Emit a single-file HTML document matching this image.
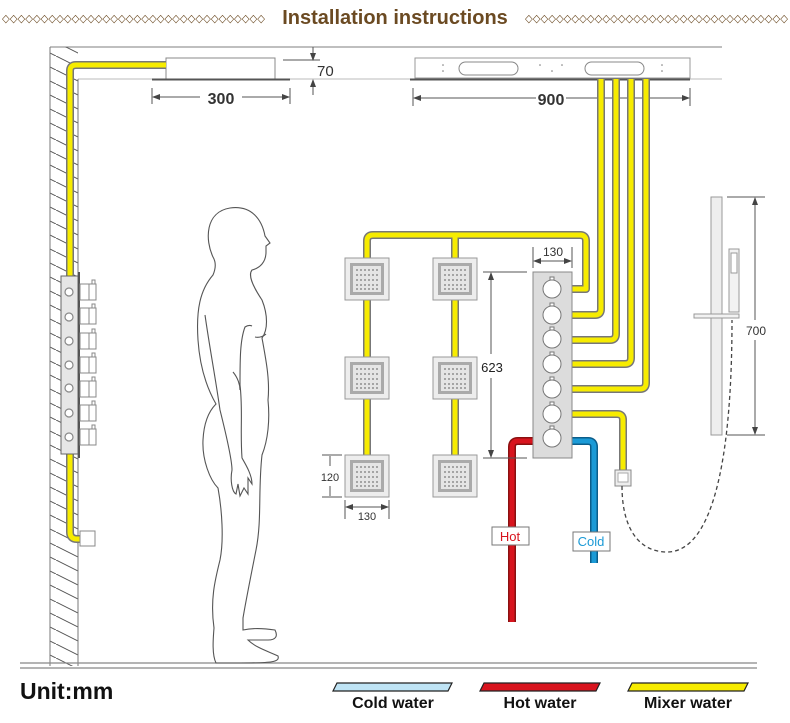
<!DOCTYPE html>
<html><head><meta charset="utf-8"><style>
html,body{margin:0;padding:0;background:#fff;}
svg{display:block;}
text{font-family:"Liberation Sans",sans-serif;}
</style></head><body>
<svg width="790" height="723" viewBox="0 0 790 723" xmlns="http://www.w3.org/2000/svg">
<defs>
<pattern id="hatch" width="28" height="14" patternUnits="userSpaceOnUse">
<path d="M0,0 L28,14" stroke="#555" stroke-width="1"/>
</pattern>
<g id="panel">
<rect x="0" y="0" width="44" height="42" fill="#ededed" stroke="#999"/>
<rect x="5" y="5" width="34" height="32" fill="#aaa"/>
<rect x="8" y="8" width="28" height="26" fill="#e5e5e5"/>
<g fill="#777">
<circle cx="12" cy="12" r="0.9"/><circle cx="16" cy="12" r="0.9"/><circle cx="20" cy="12" r="0.9"/><circle cx="24" cy="12" r="0.9"/><circle cx="28" cy="12" r="0.9"/><circle cx="32" cy="12" r="0.9"/>
<circle cx="12" cy="17" r="0.9"/><circle cx="16" cy="17" r="0.9"/><circle cx="20" cy="17" r="0.9"/><circle cx="24" cy="17" r="0.9"/><circle cx="28" cy="17" r="0.9"/><circle cx="32" cy="17" r="0.9"/>
<circle cx="12" cy="22" r="0.9"/><circle cx="16" cy="22" r="0.9"/><circle cx="20" cy="22" r="0.9"/><circle cx="24" cy="22" r="0.9"/><circle cx="28" cy="22" r="0.9"/><circle cx="32" cy="22" r="0.9"/>
<circle cx="12" cy="27" r="0.9"/><circle cx="16" cy="27" r="0.9"/><circle cx="20" cy="27" r="0.9"/><circle cx="24" cy="27" r="0.9"/><circle cx="28" cy="27" r="0.9"/><circle cx="32" cy="27" r="0.9"/>
<circle cx="12" cy="31" r="0.9"/><circle cx="16" cy="31" r="0.9"/><circle cx="20" cy="31" r="0.9"/><circle cx="24" cy="31" r="0.9"/><circle cx="28" cy="31" r="0.9"/><circle cx="32" cy="31" r="0.9"/>
</g>
</g>
<marker id="ar" markerWidth="8" markerHeight="8" refX="7" refY="4" orient="auto-start-reverse" markerUnits="userSpaceOnUse"><path d="M0,1 L8,4 L0,7 Z" fill="#444"/></marker>
</defs>

<!-- title -->
<text x="395" y="24" font-size="20" font-weight="bold" fill="#6b4a22" text-anchor="middle">Installation instructions</text>
<text x="2" y="22" font-size="11" fill="#6b4a22" textLength="263" lengthAdjust="spacingAndGlyphs">◇◇◇◇◇◇◇◇◇◇◇◇◇◇◇◇◇◇◇◇◇◇◇◇◇◇◇◇◇◇◇◇◇◇</text>
<text x="525" y="22" font-size="11" fill="#6b4a22" textLength="263" lengthAdjust="spacingAndGlyphs">◇◇◇◇◇◇◇◇◇◇◇◇◇◇◇◇◇◇◇◇◇◇◇◇◇◇◇◇◇◇◇◇◇◇</text>

<!-- ceiling -->
<line x1="50" y1="47" x2="722" y2="47" stroke="#999" stroke-width="1.2"/>
<line x1="78" y1="79" x2="152" y2="79" stroke="#bbb"/>
<line x1="290" y1="79" x2="412" y2="79" stroke="#bbb"/>
<line x1="690" y1="79" x2="722" y2="79" stroke="#bbb"/>
<!-- wall -->
<rect x="50" y="47" width="28" height="619" fill="url(#hatch)"/>
<line x1="50" y1="47" x2="50" y2="666" stroke="#777"/>
<line x1="78" y1="79" x2="78" y2="666" stroke="#777"/>
<!-- floor -->
<line x1="20" y1="663" x2="757" y2="663" stroke="#888" stroke-width="1.3"/>
<line x1="20" y1="668" x2="757" y2="668" stroke="#888" stroke-width="1.3"/>

<!-- top-left head -->
<rect x="166" y="58" width="109" height="21" fill="#fff" stroke="#888"/>
<line x1="152" y1="79.5" x2="290" y2="79.5" stroke="#555" stroke-width="2"/>
<!-- 70 dim -->
<line x1="283" y1="60" x2="320" y2="60" stroke="#555"/>
<line x1="313" y1="47" x2="313" y2="60" stroke="#555" marker-end="url(#ar)"/>
<line x1="313" y1="95" x2="313" y2="80" stroke="#555" marker-end="url(#ar)"/>
<text x="317" y="76" font-size="15" fill="#333">70</text>
<!-- 300 dim -->
<line x1="152" y1="88" x2="152" y2="104" stroke="#555"/>
<line x1="290" y1="88" x2="290" y2="104" stroke="#555"/>
<line x1="153" y1="97" x2="200" y2="97" stroke="#555" marker-start="url(#ar)"/>
<line x1="242" y1="97" x2="289" y2="97" stroke="#555" marker-end="url(#ar)"/>
<text x="221" y="104" font-size="16" font-weight="bold" fill="#333" text-anchor="middle">300</text>

<!-- 900 panel -->
<rect x="415" y="58" width="275" height="20" fill="#fff" stroke="#999"/>
<line x1="410" y1="79.5" x2="690" y2="79.5" stroke="#555" stroke-width="2"/>
<rect x="459" y="62" width="59" height="13" rx="6.5" fill="#fff" stroke="#888"/>
<rect x="585" y="62" width="59" height="13" rx="6.5" fill="#fff" stroke="#888"/>
<g fill="#777"><circle cx="443" cy="65" r="0.8"/><circle cx="443" cy="71" r="0.8"/><circle cx="540" cy="65" r="0.8"/><circle cx="552" cy="71" r="0.8"/><circle cx="562" cy="65" r="0.8"/><circle cx="662" cy="65" r="0.8"/><circle cx="662" cy="71" r="0.8"/></g>
<line x1="413" y1="88" x2="413" y2="106" stroke="#555"/>
<line x1="690" y1="88" x2="690" y2="106" stroke="#555"/>
<line x1="414" y1="98" x2="536" y2="98" stroke="#555" marker-start="url(#ar)"/>
<line x1="566" y1="98" x2="689" y2="98" stroke="#555" marker-end="url(#ar)"/>
<text x="551" y="105" font-size="16" font-weight="bold" fill="#333" text-anchor="middle">900</text>

<!-- pipes -->
<g fill="none" stroke-linejoin="round" stroke-linecap="butt">
<g stroke="#777" stroke-width="8">
<path d="M166,65 L76,65 Q70,65 70,71 L70,276"/>
<path d="M70,454 L70,532 Q70,539 77,539 L80,539"/>
<path d="M572,289 L586,289 L586,241 Q586,235 580,235 L373,235 Q367,235 367,241 L367,258"/>
<path d="M455,235 L455,258"/>
<path d="M367,300 L367,357 M367,398 L367,455 M455,300 L455,357 M455,398 L455,455"/>
<path d="M572,315 L595,315 Q601,315 601,309 L601,79"/>
<path d="M572,340 L610,340 Q616,340 616,334 L616,79"/>
<path d="M572,364 L625,364 Q631,364 631,358 L631,79"/>
<path d="M572,389 L640,389 Q646,389 646,383 L646,79"/>
<path d="M572,414 L617,414 Q623,414 623,420 L623,470"/>
</g>
<g stroke="#f7ec00" stroke-width="5">
<path d="M166,65 L76,65 Q70,65 70,71 L70,276"/>
<path d="M70,454 L70,532 Q70,539 77,539 L80,539"/>
<path d="M572,289 L586,289 L586,241 Q586,235 580,235 L373,235 Q367,235 367,241 L367,258"/>
<path d="M455,235 L455,258"/>
<path d="M367,300 L367,357 M367,398 L367,455 M455,300 L455,357 M455,398 L455,455"/>
<path d="M572,315 L595,315 Q601,315 601,309 L601,79"/>
<path d="M572,340 L610,340 Q616,340 616,334 L616,79"/>
<path d="M572,364 L625,364 Q631,364 631,358 L631,79"/>
<path d="M572,389 L640,389 Q646,389 646,383 L646,79"/>
<path d="M572,414 L617,414 Q623,414 623,420 L623,470"/>
</g>
<g stroke="#8a1010" stroke-width="8"><path d="M533,441 L518,441 Q512,441 512,447 L512,622"/></g>
<g stroke="#d8141e" stroke-width="5"><path d="M533,441 L518,441 Q512,441 512,447 L512,622"/></g>
<g stroke="#0b5d8a" stroke-width="8"><path d="M572,441 L588,441 Q594,441 594,447 L594,563"/></g>
<g stroke="#1b9ad6" stroke-width="5"><path d="M572,441 L588,441 Q594,441 594,447 L594,563"/></g>
</g>

<!-- wall thermostat -->
<rect x="61" y="276" width="17" height="178" fill="#e6e6e6" stroke="#666"/>
<line x1="79" y1="272" x2="79" y2="458" stroke="#555" stroke-width="2"/>
<g fill="#fff" stroke="#888" stroke-width="1.2">
<circle cx="69" cy="292" r="4"/><circle cx="69" cy="317" r="4"/><circle cx="69" cy="341" r="4"/><circle cx="69" cy="365" r="4"/><circle cx="69" cy="388" r="4"/><circle cx="69" cy="413" r="4"/><circle cx="69" cy="437" r="4"/>
</g>
<g fill="#fff" stroke="#888">
<rect x="80" y="284" width="16" height="16"/><rect x="89" y="284" width="7" height="16"/><rect x="92" y="280" width="3" height="4"/>
<rect x="80" y="308" width="16" height="16"/><rect x="89" y="308" width="7" height="16"/><rect x="92" y="304" width="3" height="4"/>
<rect x="80" y="333" width="16" height="16"/><rect x="89" y="333" width="7" height="16"/><rect x="92" y="329" width="3" height="4"/>
<rect x="80" y="357" width="16" height="16"/><rect x="89" y="357" width="7" height="16"/><rect x="92" y="353" width="3" height="4"/>
<rect x="80" y="381" width="16" height="16"/><rect x="89" y="381" width="7" height="16"/><rect x="92" y="377" width="3" height="4"/>
<rect x="80" y="405" width="16" height="16"/><rect x="89" y="405" width="7" height="16"/><rect x="92" y="401" width="3" height="4"/>
<rect x="80" y="429" width="16" height="16"/><rect x="89" y="429" width="7" height="16"/><rect x="92" y="425" width="3" height="4"/>
<rect x="80" y="531" width="15" height="15"/>
</g>

<!-- body panels -->
<use href="#panel" x="345" y="258"/>
<use href="#panel" x="433" y="258"/>
<use href="#panel" x="345" y="357"/>
<use href="#panel" x="433" y="357"/>
<use href="#panel" x="345" y="455"/>
<use href="#panel" x="433" y="455"/>

<!-- 120 / 130 dims -->
<line x1="322" y1="455" x2="342" y2="455" stroke="#555"/>
<line x1="322" y1="497" x2="342" y2="497" stroke="#555"/>
<line x1="330" y1="456" x2="330" y2="466" stroke="#555"/>
<line x1="330" y1="486" x2="330" y2="496" stroke="#555"/>
<text x="330" y="481" font-size="11" fill="#333" text-anchor="middle">120</text>
<line x1="345" y1="500" x2="345" y2="519" stroke="#555"/>
<line x1="389" y1="500" x2="389" y2="519" stroke="#555"/>
<line x1="346" y1="507" x2="388" y2="507" stroke="#555" marker-start="url(#ar)" marker-end="url(#ar)"/>
<text x="367" y="520" font-size="11" fill="#333" text-anchor="middle">130</text>

<!-- 623 dim -->
<line x1="483" y1="272" x2="527" y2="272" stroke="#555"/>
<line x1="483" y1="458" x2="527" y2="458" stroke="#555"/>
<line x1="491" y1="273" x2="491" y2="354" stroke="#555" marker-start="url(#ar)"/>
<line x1="491" y1="378" x2="491" y2="457" stroke="#555" marker-end="url(#ar)"/>
<text x="492" y="372" font-size="13" fill="#222" text-anchor="middle">623</text>

<!-- valve -->
<rect x="533" y="272" width="39" height="186" fill="#dcdcdc" stroke="#888"/>
<g fill="#fff" stroke="#777">
<circle cx="552" cy="289" r="9"/><circle cx="552" cy="315" r="9"/><circle cx="552" cy="339" r="9"/><circle cx="552" cy="364" r="9"/><circle cx="552" cy="389" r="9"/><circle cx="552" cy="414" r="9"/><circle cx="552" cy="438" r="9"/>
<rect x="550" y="277" width="4" height="3"/><rect x="550" y="303" width="4" height="3"/><rect x="550" y="327" width="4" height="3"/><rect x="550" y="352" width="4" height="3"/><rect x="550" y="377" width="4" height="3"/><rect x="550" y="402" width="4" height="3"/><rect x="550" y="426" width="4" height="3"/>
</g>
<!-- 130 above valve -->
<line x1="533" y1="247" x2="533" y2="268" stroke="#555"/>
<line x1="572" y1="247" x2="572" y2="268" stroke="#555"/>
<line x1="534" y1="261" x2="571" y2="261" stroke="#555" marker-start="url(#ar)" marker-end="url(#ar)"/>
<text x="553" y="256" font-size="12" fill="#333" text-anchor="middle">130</text>

<!-- hot/cold labels -->
<rect x="492" y="527" width="37" height="18" fill="#fff" stroke="#777"/>
<text x="510" y="541" font-size="13" fill="#d8141e" text-anchor="middle">Hot</text>
<rect x="573" y="532" width="37" height="19" fill="#fff" stroke="#777"/>
<text x="591" y="546" font-size="13" fill="#1b9ad6" text-anchor="middle">Cold</text>

<!-- outlet + hose -->
<rect x="615" y="470" width="16" height="16" fill="#eee" stroke="#888"/>
<rect x="618" y="473" width="10" height="9" fill="#fff" stroke="#aaa"/>
<path d="M622,486 C622,530 640,552 667,552 C710,552 732,470 732,320" fill="none" stroke="#444" stroke-width="1.3" stroke-dasharray="4,3"/>

<!-- slide bar -->
<rect x="711" y="197" width="11" height="238" fill="#eee" stroke="#999"/>
<rect x="729" y="249" width="10" height="63" fill="#f2f2f2" stroke="#999"/>
<rect x="731" y="253" width="6" height="20" fill="#fff" stroke="#999"/>
<rect x="694" y="314" width="45" height="4" fill="#f2f2f2" stroke="#999"/>
<line x1="727" y1="197" x2="765" y2="197" stroke="#555"/>
<line x1="727" y1="435" x2="765" y2="435" stroke="#555"/>
<line x1="755" y1="198" x2="755" y2="320" stroke="#555" marker-start="url(#ar)"/>
<line x1="755" y1="340" x2="755" y2="434" stroke="#555" marker-end="url(#ar)"/>
<text x="756" y="335" font-size="12" fill="#333" text-anchor="middle">700</text>

<!-- human figure -->
<g fill="none" stroke="#555" stroke-width="1.1">
<path d="M213,257 C205,240 205,212 230,208 C252,205 262,220 265,236 L270,243 L266,246 L266,252 C266,262 260,268 252,270 C248,275 252,285 262,300 C268,315 268,330 262,338 C266,360 270,380 268,400 C270,420 268,440 262,455 C258,490 262,520 256,550 C250,580 246,600 243,618 L243,630 C252,628 262,628 275,630 C278,636 276,640 268,640 L248,640 C256,648 270,652 278,656 C280,662 272,663 240,663 L216,663 C212,655 213,640 214,628 C210,600 215,580 220,560 C224,540 222,510 218,488 C210,480 202,460 203,440 C204,420 210,410 216,404 C208,390 200,370 198,340 C196,310 200,290 213,275 C216,268 216,262 213,257 Z"/>
<path d="M205,315 C210,350 215,375 220,410 C225,430 232,460 232,470 C230,480 232,492 236,494 L238,484 L240,496 L244,488 L248,494 L248,478 L252,484 C252,475 246,465 242,458 C240,430 243,410 240,385 C240,360 240,340 245,327 C248,325 250,325 252,326"/>
<path d="M255,337 C260,338 264,336 266,334"/>
<path d="M233,372 C238,378 240,385 240,390"/>
</g>

<!-- legend -->
<text x="20" y="699" font-size="23" font-weight="bold" fill="#111">Unit:mm</text>
<path d="M337,683 L452,683 L448,691 L333,691 Z" fill="#bfe4f5" stroke="#222" stroke-width="1.2"/>
<path d="M484,683 L600,683 L596,691 L480,691 Z" fill="#d8141e" stroke="#222" stroke-width="1.2"/>
<path d="M632,683 L748,683 L744,691 L628,691 Z" fill="#f7ec00" stroke="#222" stroke-width="1.2"/>
<text x="393" y="708" font-size="16" font-weight="bold" fill="#111" text-anchor="middle">Cold water</text>
<text x="540" y="708" font-size="16" font-weight="bold" fill="#111" text-anchor="middle">Hot water</text>
<text x="688" y="708" font-size="16" font-weight="bold" fill="#111" text-anchor="middle">Mixer water</text>
</svg>
</body></html>
